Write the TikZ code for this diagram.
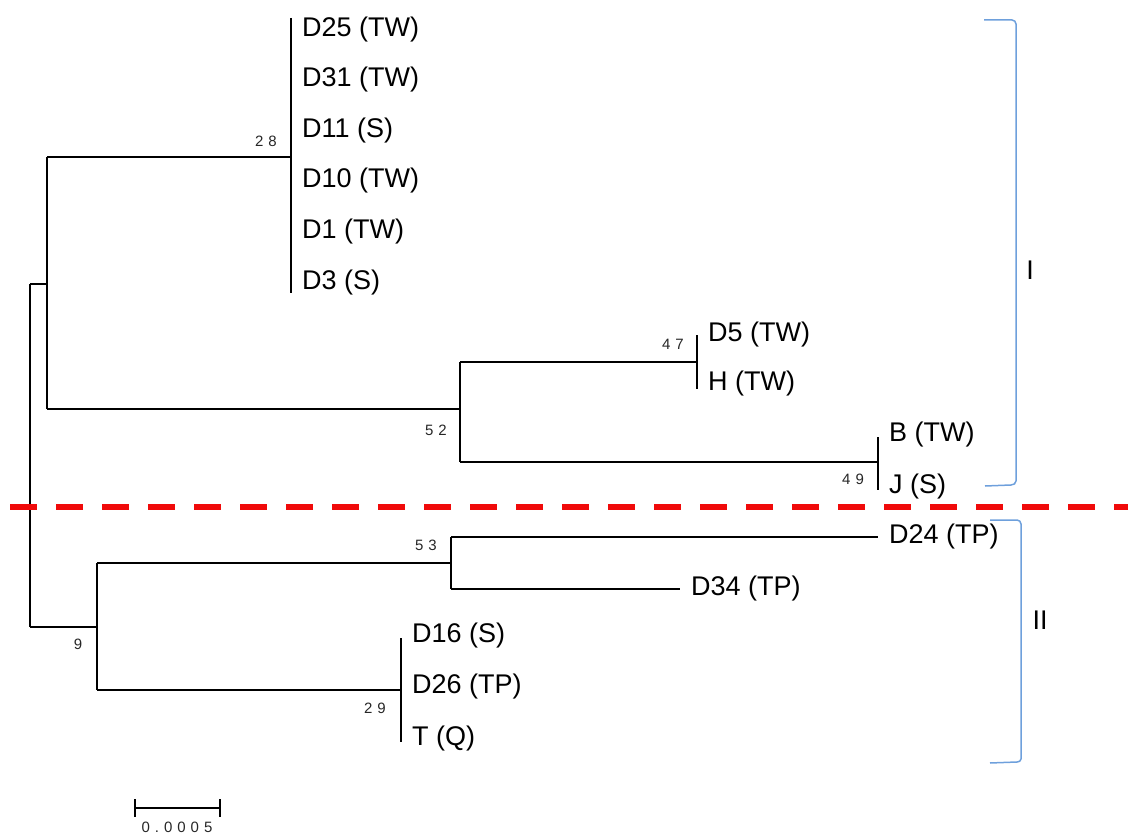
\documentclass[tikz,border=0pt]{standalone}
\usepackage{fontspec}
\setmainfont{Liberation Sans}
\definecolor{brk}{RGB}{110,160,220}
\definecolor{cut}{RGB}{240,10,10}
\begin{document}
\begin{tikzpicture}[x=1pt,y=-1pt,
  br/.style={line width=2.2pt,black},
  leaf/.style={anchor=west,inner sep=0pt,font=\fontsize{27}{27}\selectfont},
  boot/.style={inner sep=0pt,font=\fontsize{15}{15}\selectfont,text=black!85},
  bracket/.style={draw=brk,line width=1.5pt},
  clade/.style={inner sep=0pt,font=\fontsize{27}{27}\selectfont}]
\useasboundingbox (0,0) rectangle (1128,837);
% internal nodes
\coordinate (root) at (30,284);
\coordinate (rootb) at (30,627);
\coordinate (u) at (47,284);
\coordinate (ut) at (47,157);
\coordinate (ub) at (47,409);
\coordinate (n28) at (291,157);
\coordinate (n52) at (460,409);
\coordinate (n52t) at (460,362);
\coordinate (n52b) at (460,462);
\coordinate (n47) at (697,362);
\coordinate (n49) at (878,462);
\coordinate (l) at (97,627);
\coordinate (lt) at (97,563);
\coordinate (lb) at (97,690);
\coordinate (n53) at (451,563);
\coordinate (n53t) at (451,537);
\coordinate (n53b) at (451,589);
\coordinate (e24) at (878,537);
\coordinate (e34) at (680,589);
\coordinate (n29) at (401,690);
% leaves
\node[leaf] (D25) at (302,30) {D25 (TW)};
\node[leaf] (D31) at (302,80) {D31 (TW)};
\node[leaf] (D11) at (302,131) {D11 (S)};
\node[leaf] (D10) at (302,181) {D10 (TW)};
\node[leaf] (D1) at (302,232) {D1 (TW)};
\node[leaf] (D3) at (302,283) {D3 (S)};
\node[leaf] (D5) at (708,335) {D5 (TW)};
\node[leaf] (H) at (708,384) {H (TW)};
\node[leaf] (B) at (889,435) {B (TW)};
\node[leaf] (J) at (889,487) {J (S)};
\node[leaf] (D24) at (889,537) {D24 (TP)};
\node[leaf] (D34) at (691,589) {D34 (TP)};
\node[leaf] (D16) at (412,636) {D16 (S)};
\node[leaf] (D26) at (412,687) {D26 (TP)};
\node[leaf] (T) at (412,739) {T (Q)};
% branches
\draw[br] (root) -- (rootb);
\draw[br] (root) -- (u);
\draw[br] (ut) -- (ub);
\draw[br] (ut) -- (n28);
\draw[br] (291,18) -- (291,293);
\draw[br] (ub) -- (n52);
\draw[br] (n52t) -- (n52b);
\draw[br] (n52t) -- (n47);
\draw[br] (697,335) -- (697,389);
\draw[br] (n52b) -- (n49);
\draw[br] (878,437) -- (878,490);
\draw[br] (rootb) -- (l);
\draw[br] (lt) -- (lb);
\draw[br] (lt) -- (n53);
\draw[br] (n53t) -- (n53b);
\draw[br] (n53t) -- (e24);
\draw[br] (n53b) -- (e34);
\draw[br] (lb) -- (n29);
\draw[br] (401,638) -- (401,742);
% bootstrap values
\node[boot] (b28) at (266,141) {2\,\,8};
\node[boot] (b52) at (436,430) {5\,\,2};
\node[boot] (b47) at (673,344) {4\,\,7};
\node[boot] (b49) at (853,479) {4\,\,9};
\node[boot] (b53) at (426,545) {5\,\,3};
\node[boot] (b9) at (78,644) {9};
\node[boot] (b29) at (375,708) {2\,\,9};
% cut line
\coordinate (cutL) at (10,507);
\coordinate (cutR) at (1128,507);
\draw[cut,line width=6pt,dash pattern=on 27pt off 19pt] (cutL) -- (cutR);
% brackets
\draw[bracket] (984,20) -- (1012,20) to[out=0,in=90] (1016,24) -- (1016,481) to[out=-90,in=0] (1011,485) -- (985,486);
\node[clade] (cI) at (1030,270) {I};
\draw[bracket] (990,520) -- (1017,520) to[out=0,in=90] (1021,524) -- (1021,759) to[out=-90,in=0] (1017,762) -- (990,763);
\node[clade] (cII) at (1040,620) {II};
% scale bar
\coordinate (s1) at (135,808);
\coordinate (s2) at (220,808);
\draw[br] (s1) -- (s2);
\draw[br] (135,799) -- (135,817);
\draw[br] (220,799) -- (220,817);
\node[boot] (sc) at (177,827) {0\,\,.\,\,0\,\,0\,\,0\,\,5};
\end{tikzpicture}
\end{document}
